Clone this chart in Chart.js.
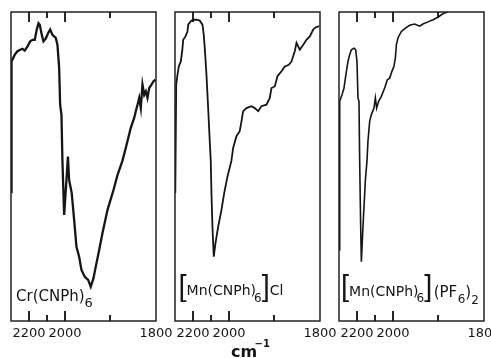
<!DOCTYPE html>
<html>
<head>
<meta charset="utf-8">
<script src="https://cdn.jsdelivr.net/npm/chart.js@4.4.1/dist/chart.umd.min.js"></script>
<style>
html,body{margin:0;padding:0;background:#fff;}
#wrap{position:relative;width:491px;height:358px;overflow:hidden;background:#fff;}
#wrap canvas{position:absolute;left:0;top:0;}
</style>
</head>
<body>
<div id="wrap">
<canvas id="c1" width="491" height="358"></canvas>
<canvas id="c2" width="491" height="358"></canvas>
<canvas id="c3" width="491" height="358"></canvas>
</div>
<script>
// ---------- data ----------
const panelNames = ['Cr(CNPh)6', '[Mn(CNPh)6]Cl', '[Mn(CNPh)6](PF6)2'];
const tickValues = [2200, 2100, 2000, 1900, 1800];
const labeledTicks = [2200, 2000, 1800];
const majorTicks = [2200, 2000];
const axisTitle = 'cm';
const axisTitleSup = '−1';

// Cr(CNPh)6
const crWn = [2299,2297,2291.7,2278.9,2263.9,2248.9,2236.1,2223.3,2208.3,2193.3,2180.6,2167.8,2156.7,2147.2,2140,2128.9,2119.4,2106.7,2093.3,2082.2,2069.4,2051.1,2041.7,2032.2,2026.7,2019.4,2013.9,2008.3,2004.4,1996.7,1993.4,1990.8,1985.1,1979.8,1974.7,1968.8,1963.7,1956.5,1949.0,1943.3,1937.4,1932.3,1924.8,1917.6,1906.6,1893.4,1884.6,1873.6,1866.4,1855.4,1847.9,1844.4,1840.6,1836.9,1833.4,1829.7,1825.9,1822.4,1818.7,1814.9,1809.9,1805.5,1801.1];
const crT  = [41.7,84.0,84.6,86.2,87.3,87.8,88.1,87.5,88.9,90.5,91.0,91.0,94.3,96.4,95.9,92.6,90.5,91.4,93.2,94.3,92.6,91.6,89.4,81.9,70.0,66.8,51.8,41.4,34.3,45.6,53.2,45.6,41.4,32.7,24.0,20.8,16.5,14.3,13.3,11.1,13.8,17.6,23.0,28.4,35.9,42.4,47.2,51.9,56.0,62.5,65.7,67.9,70.0,72.2,68.9,76.5,73.2,74.3,72.2,75.4,76.5,77.6,78.1];

// [Mn(CNPh)6]Cl
const mnClWn = [2298.3,2293.3,2286.1,2278.9,2267.8,2260,2254.4,2241.7,2230.6,2226.7,2212.2,2198.9,2180.6,2162.2,2147.2,2140,2134.4,2125,2115.6,2106.7,2101.1,2097.2,2091.7,2084.4,2075,2060,2041.7,2026.7,2008.3,1994.5,1990.8,1983.5,1976.3,1972.5,1968.8,1961.5,1950.5,1943.3,1935.8,1928.6,1917.6,1910.3,1906.6,1899.3,1893.4,1884.6,1877.3,1868.5,1862.6,1855.4,1851.6,1844.4,1836.9,1829.7,1822.4,1814.9,1809.9,1801.8];
const mnClT  = [41.4,76.5,79.7,82.4,84.0,87.3,91.0,92.1,93.7,95.9,97.0,97.5,97.5,97.2,95.9,92.6,88.3,79.7,68.9,58.2,51.8,41.3,30.5,20.8,25.1,30.5,35.9,41.3,46.7,51.9,56.0,59.8,61.4,64.6,67.9,68.9,69.5,68.9,67.9,69.5,70.0,72.2,75.4,75.9,79.2,80.8,82.4,82.9,84.0,87.3,90.0,87.8,89.4,91.0,92.1,94.3,95.0,95.4];

// [Mn(CNPh)6](PF6)2
const mnPfWn = [2298.9,2296.1,2283.3,2272.2,2258.9,2250,2240.6,2231.1,2216.7,2207.2,2200,2194.4,2188.9,2185,2179.4,2175.6,2166.7,2153.3,2144.4,2138.9,2129.4,2120,2105.6,2097.8,2090.6,2079.4,2064.4,2046.1,2031.1,2018.3,2005.6,1997.8,1994.7,1992.5,1989,1981.5,1972.7,1963.3,1952.3,1941.3,1934.1,1923.1,1912.1,1901.1,1893.6,1886.4,1879.1];
const mnPfT  = [23.0,71.1,73.2,75.4,80.8,84.0,86.2,87.8,88.3,87.8,84.0,72.2,71.1,51.8,30.5,19.2,30.5,45.6,51.8,58.2,64.6,66.8,68.9,72.2,68.9,71.1,72.7,75.4,78.1,78.6,80.8,82.4,85.1,89.4,91.6,93.7,94.8,95.7,96.1,95.4,96.1,96.8,97.5,98.3,99.1,99.7,100];

// ---------- IR grating-change scale (expanded below 2000 cm-1) ----------
const X_HIGH = 2300, X_BREAK = 2000, X_LOW = 1800, BREAK_FRAC = 0.372;
class IRScale extends Chart.LinearScale {
  getPixelForValue(v) {
    if (v === null || v === undefined) return NaN;
    let d;
    if (v >= X_BREAK) d = (X_HIGH - v) / (X_HIGH - X_BREAK) * BREAK_FRAC;
    else d = BREAK_FRAC + (X_BREAK - v) / (X_BREAK - X_LOW) * (1 - BREAK_FRAC);
    return this.getPixelForDecimal(d);
  }
  getValueForPixel(p) {
    const d = this.getDecimalForPixel(p);
    if (d <= BREAK_FRAC) return X_HIGH - d / BREAK_FRAC * (X_HIGH - X_BREAK);
    return X_BREAK - (d - BREAK_FRAC) / (1 - BREAK_FRAC) * (X_BREAK - X_LOW);
  }
}
IRScale.id = 'ir';
IRScale.defaults = Chart.LinearScale.defaults;
Chart.register(IRScale);

const INK = '#151515';
const MAIN = "'DejaVu Sans', sans-serif";
const BR = "'Liberation Sans', Arial, sans-serif";

function drawRuns(ctx, x, runs) {
  ctx.fillStyle = INK;
  ctx.textAlign = 'left';
  ctx.textBaseline = 'alphabetic';
  for (const r of runs) {
    ctx.font = r.font;
    ctx.fillText(r.t, x, r.y);
    x += ctx.measureText(r.t).width + (r.gap || 0);
  }
}

function framePlugin(labelRuns, labelX, extra) {
  return {
    id: 'frame',
    afterDraw(chart) {
      const ctx = chart.ctx, a = chart.chartArea, xs = chart.scales.x;
      ctx.save();
      ctx.strokeStyle = '#222';
      ctx.lineWidth = 1.5;
      ctx.strokeRect(a.left, a.top, a.right - a.left, a.bottom - a.top);
      ctx.strokeStyle = '#111';
      ctx.lineWidth = 1.8;
      for (const v of tickValues) {
        if (v === X_LOW) continue;
        const px = Math.round(xs.getPixelForValue(v));
        const len = majorTicks.includes(v) ? 10 : 6;
        ctx.beginPath();
        ctx.moveTo(px, a.top); ctx.lineTo(px, a.top + len);
        ctx.moveTo(px, a.bottom); ctx.lineTo(px, a.bottom - len);
        ctx.stroke();
      }
      drawRuns(ctx, labelX, labelRuns);
      if (extra) extra(ctx);
      ctx.restore();
    }
  };
}

function makeChart(id, wn, tr, padL, padR, lw, runs, runX, extra) {
  const pts = wn.map((w, i) => ({ x: w, y: tr[i] }));
  return new Chart(document.getElementById(id), {
    type: 'line',
    data: { datasets: [{ data: pts, borderColor: INK, borderWidth: lw, pointRadius: 0, tension: 0, fill: false }] },
    options: {
      responsive: false,
      animation: false,
      devicePixelRatio: 1,
      events: [],
      layout: { padding: { left: padL, right: padR, top: 12, bottom: 0 } },
      plugins: { legend: { display: false }, tooltip: { enabled: false } },
      scales: {
        x: {
          type: 'ir',
          min: X_LOW, max: X_HIGH,
          grid: { display: false, drawTicks: false },
          border: { display: false },
          afterBuildTicks: s => { s.ticks = tickValues.map(v => ({ value: v })); },
          afterFit: s => { s.height = 37; s.paddingLeft = 0; s.paddingRight = 0; },
          ticks: {
            autoSkip: false, maxRotation: 0, minRotation: 0, padding: 4.5,
            color: INK,
            font: { family: MAIN, size: 13 },
            callback: v => labeledTicks.includes(v) ? String(v) : ''
          }
        },
        y: { display: false, min: 0, max: 100 }
      }
    },
    plugins: [framePlugin(runs, runX, extra)]
  });
}

makeChart('c1', crWn, crT, 11, 335, 2.3, [
  { t: 'Cr(CNPh)', font: `15px ${MAIN}`, y: 300.5 },
  { t: '6', font: `13px ${MAIN}`, y: 306.5 }
], 16);

makeChart('c2', mnClWn, mnClT, 175, 171, 1.8, [
  { t: '[', font: `29px ${BR}`, y: 295.5 },
  { t: 'Mn(CNPh)', font: `14px ${MAIN}`, y: 295, gap: -2 },
  { t: '6', font: `12px ${MAIN}`, y: 301.5 },
  { t: ']', font: `29px ${BR}`, y: 295.5 },
  { t: 'Cl', font: `14px ${MAIN}`, y: 295 }
], 178.5, ctx => {
  ctx.font = `bold 16px ${MAIN}`;
  ctx.textAlign = 'center';
  ctx.fillText(axisTitle, 244, 356.5);
  ctx.font = `bold 10px ${MAIN}`;
  ctx.textAlign = 'left';
  ctx.fillText(axisTitleSup, 254.5, 347);
});

makeChart('c3', mnPfWn, mnPfT, 339, 7, 1.6, [
  { t: '[', font: `29px ${BR}`, y: 296 },
  { t: 'Mn(CNPh)', font: `14px ${MAIN}`, y: 296, gap: -2 },
  { t: '6', font: `12px ${MAIN}`, y: 302 },
  { t: ']', font: `29px ${BR}`, y: 296, gap: 1.5 },
  { t: '(PF', font: `15px ${MAIN}`, y: 296.5, gap: 0.5 },
  { t: '6', font: `12px ${MAIN}`, y: 303 },
  { t: ')', font: `15px ${MAIN}`, y: 296.5 },
  { t: '2', font: `12px ${MAIN}`, y: 303.5 }
], 341);
</script>
</body>
</html>
